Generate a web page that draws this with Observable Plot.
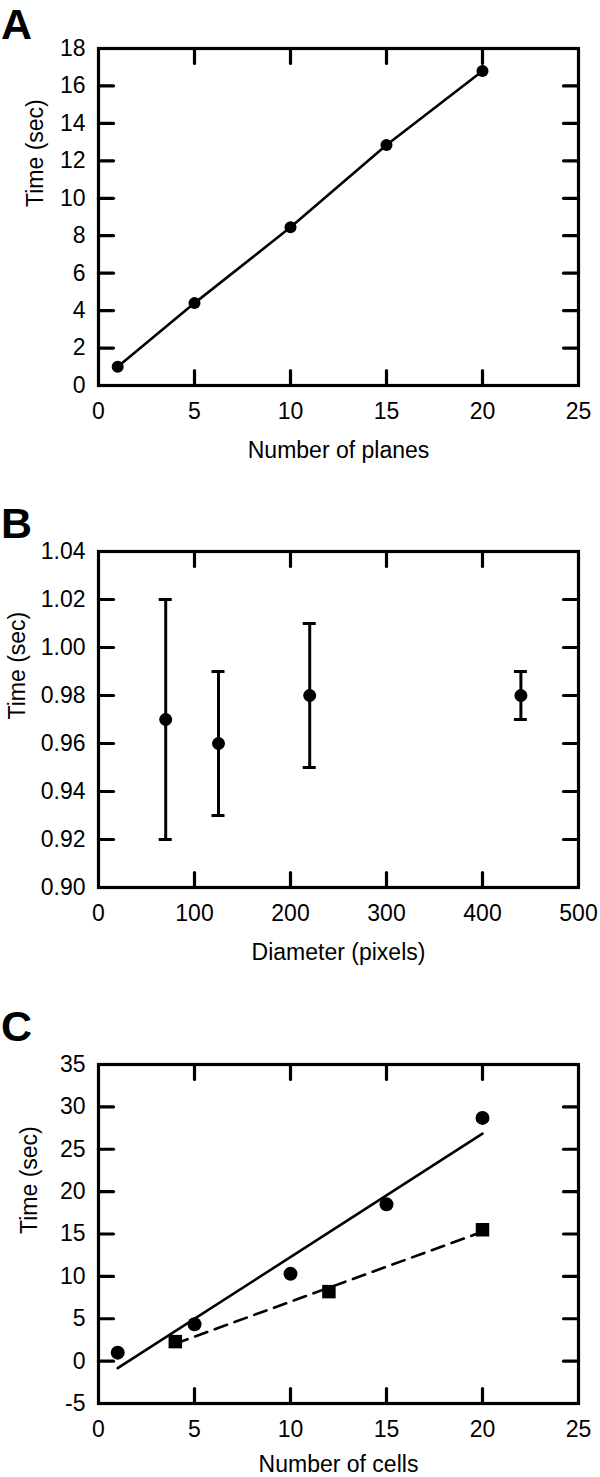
<!DOCTYPE html>
<html>
<head>
<meta charset="utf-8">
<script src="https://cdn.jsdelivr.net/npm/d3@7"></script>
<script src="https://cdn.jsdelivr.net/npm/@observablehq/plot@0.6"></script>
<style>
  html, body { margin: 0; padding: 0; background: white; }
  #wrap { position: relative; width: 600px; height: 1477px; overflow: hidden; background: white; }
  .letter { position: absolute; left: 1px; font: bold 43px "Liberation Sans", Arial, sans-serif; line-height: 43px; color: black; }
  .panel { position: absolute; left: 0; }
</style>
</head>
<body>
<div id="wrap"></div>
<script>
// ---- Panel A data ----
const planes = [1, 5, 10, 15, 20];
const planeTime = [1.0, 4.4, 8.45, 12.85, 16.8];
const xTicksA = [0, 5, 10, 15, 20, 25];
const yTicksA = [0, 2, 4, 6, 8, 10, 12, 14, 16, 18];

// ---- Panel B data ----
const diameter = [70, 125, 220, 440];
const diamTime = [0.97, 0.96, 0.98, 0.98];
const diamLow = [0.92, 0.93, 0.95, 0.97];
const diamHigh = [1.02, 0.99, 1.01, 0.99];
const xTicksB = [0, 100, 200, 300, 400, 500];
const yTicksB = [0.90, 0.92, 0.94, 0.96, 0.98, 1.00, 1.02, 1.04];

// ---- Panel C data ----
const cellsCircle = [1, 5, 10, 15, 20];
const timeCircle = [1.0, 4.35, 10.3, 18.5, 28.7];
const cellsSquare = [4, 12, 20];
const timeSquare = [2.3, 8.2, 15.5];
const xTicksC = [0, 5, 10, 15, 20, 25];
const yTicksC = [-5, 0, 5, 10, 15, 20, 25, 30, 35];

const FONT = '"Liberation Sans", Arial, sans-serif';
const FS = 23;
const tickLine = {draw(ctx, l) { ctx.moveTo(0, 0); ctx.lineTo(0, -l); }};

function frameMarks(xTicks, yTicks, xFmt, yFmt, xLabel, yLabel, yLabelDx, yLabelDy, xLabelDy) {
  const xin = xTicks.slice(1, -1), yin = yTicks.slice(1, -1);
  const tk = {length: 15, anchor: "start", shape: tickLine, stroke: "black", strokeWidth: 3.2};
  return [
    Plot.vector(xin, {x: d => d, frameAnchor: "bottom", rotate: 0, ...tk}),
    Plot.vector(xin, {x: d => d, frameAnchor: "top", rotate: 180, ...tk}),
    Plot.vector(yin, {y: d => d, frameAnchor: "left", rotate: 90, ...tk}),
    Plot.vector(yin, {y: d => d, frameAnchor: "right", rotate: -90, ...tk}),
    Plot.frame({stroke: "black", strokeWidth: 3.2}),
    Plot.axisX({ticks: xTicks, tickSize: 0, tickPadding: 17, tickFormat: xFmt, label: null, fontSize: FS}),
    Plot.axisY({ticks: yTicks, tickSize: 0, tickPadding: 13, tickFormat: yFmt, label: null, fontSize: FS}),
    Plot.text([xLabel], {text: d => d, frameAnchor: "bottom", dy: xLabelDy, lineAnchor: "middle", fontSize: FS}),
    Plot.text([yLabel], {text: d => d, frameAnchor: "left", rotate: -90, dx: yLabelDx, dy: yLabelDy, lineAnchor: "middle", fontSize: FS})
  ];
}

function place(svg, top) {
  svg.classList.add("panel");
  svg.style.top = top + "px";
  document.getElementById("wrap").appendChild(svg);
}
function letter(t, top) {
  const d = document.createElement("div");
  d.className = "letter";
  d.textContent = t;
  d.style.top = top + "px";
  document.getElementById("wrap").appendChild(d);
}

const style = {fontFamily: FONT, fontSize: FS + "px", color: "black", background: "white"};
const intFmt = d => String(d);

// ---- Panel A ----
const dataA = planes.map((x, i) => ({x, y: planeTime[i]}));
place(Plot.plot({
  width: 600, height: 480,
  marginTop: 48, marginBottom: 95, marginLeft: 98, marginRight: 22,
  style,
  x: {domain: [0, 25]},
  y: {domain: [0, 18]},
  marks: [
    ...frameMarks(xTicksA, yTicksA, intFmt, intFmt, "Number of planes", "Time (sec)", -63, -10, 65),
    Plot.line(dataA, {x: "x", y: "y", stroke: "black", strokeWidth: 2.6}),
    Plot.dot(dataA, {x: "x", y: "y", r: 6, fill: "black"})
  ]
}), 0);
letter("A", 3);

// ---- Panel B ----
const dataB = diameter.map((x, i) => ({x, y: diamTime[i], lo: diamLow[i], hi: diamHigh[i]}));
const capOpts = {stroke: "black", strokeWidth: 3, insetLeft: -6.5, insetRight: -6.5};
place(Plot.plot({
  width: 600, height: 490,
  marginTop: 71, marginBottom: 83, marginLeft: 98, marginRight: 22,
  style,
  x: {domain: [0, 500]},
  y: {domain: [0.90, 1.04]},
  marks: [
    ...frameMarks(xTicksB, yTicksB, intFmt, d3.format(".2f"), "Diameter (pixels)", "Time (sec)", -81, 0, 65),
    Plot.ruleX(dataB, {x: "x", y1: "lo", y2: "hi", stroke: "black", strokeWidth: 3}),
    Plot.ruleY(dataB, {y: "lo", x1: "x", x2: "x", ...capOpts}),
    Plot.ruleY(dataB, {y: "hi", x1: "x", x2: "x", ...capOpts}),
    Plot.dot(dataB, {x: "x", y: "y", r: 6.5, fill: "black"})
  ]
}), 480);
letter("B", 502);

// ---- Panel C ----
const dataC1 = cellsCircle.map((x, i) => ({x, y: timeCircle[i]}));
const dataC2 = cellsSquare.map((x, i) => ({x, y: timeSquare[i]}));
place(Plot.plot({
  width: 600, height: 507,
  marginTop: 94, marginBottom: 74, marginLeft: 98, marginRight: 22,
  style,
  x: {domain: [0, 25]},
  y: {domain: [-5, 35]},
  marks: [
    ...frameMarks(xTicksC, yTicksC, intFmt, intFmt, "Number of cells", "Time (sec)", -69, 0, 61),
    Plot.linearRegressionY(dataC1, {x: "x", y: "y", ci: 0, stroke: "black", strokeWidth: 2.6}),
    Plot.linearRegressionY(dataC2, {x: "x", y: "y", ci: 0, stroke: "black", strokeWidth: 2.6, strokeDasharray: "13,8"}),
    Plot.dot(dataC1, {x: "x", y: "y", r: 7, fill: "black"}),
    Plot.dot(dataC2, {x: "x", y: "y", r: 7.6, symbol: "square", fill: "black"})
  ]
}), 970);
letter("C", 1005);
</script>
</body>
</html>
